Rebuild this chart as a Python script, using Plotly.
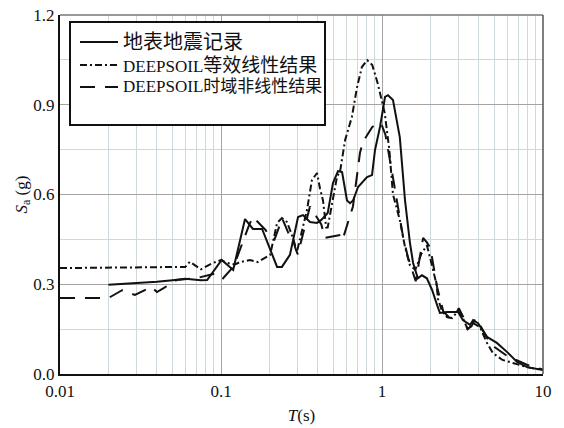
import plotly.graph_objects as go

# Response spectra: period T (s) and spectral acceleration Sa (g)
t_record = [0.02, 0.03, 0.04, 0.05, 0.06, 0.075, 0.082, 0.101, 0.119, 0.141, 0.158, 0.18,
            0.223, 0.239, 0.268, 0.301, 0.323, 0.357, 0.395, 0.42, 0.46, 0.496, 0.533, 0.565,
            0.606, 0.633, 0.661, 0.71, 0.807, 0.867, 0.905, 0.972, 1.044, 1.09, 1.17, 1.29,
            1.39, 1.49, 1.56, 1.67, 1.77, 1.9, 2.05, 2.2, 2.29, 2.53, 2.76, 2.97, 3.18, 3.52,
            3.68, 3.95, 4.49, 5.17, 5.97, 6.9, 7.96, 10.0]
sa_record = [0.298, 0.303, 0.308, 0.313, 0.318, 0.313, 0.314, 0.381, 0.348, 0.518, 0.485, 0.485,
             0.358, 0.358, 0.398, 0.525, 0.531, 0.508, 0.505, 0.515, 0.538, 0.638, 0.678, 0.675,
             0.58, 0.571, 0.58, 0.625, 0.658, 0.665, 0.749, 0.826, 0.926, 0.932, 0.916, 0.792,
             0.58, 0.44, 0.371, 0.32, 0.33, 0.32, 0.28, 0.23, 0.204, 0.207, 0.207, 0.207, 0.18,
             0.164, 0.18, 0.17, 0.124, 0.104, 0.074, 0.040, 0.023, 0.013]

t_eql = [0.01, 0.06, 0.064, 0.07, 0.075, 0.088, 0.1, 0.11, 0.122, 0.131, 0.151, 0.169, 0.188,
         0.202, 0.223, 0.239, 0.257, 0.268, 0.28, 0.296, 0.342, 0.367, 0.395, 0.412, 0.43, 0.45,
         0.46, 0.525, 0.55, 0.59, 0.65, 0.70, 0.75, 0.81, 0.87, 0.94, 1.04, 1.11, 1.17, 1.29,
         1.39, 1.49, 1.61, 1.75, 1.9, 2.05, 2.18, 2.23, 2.36, 2.53, 2.72, 2.97, 3.18, 3.42,
         3.68, 4.06, 4.49, 4.88, 5.6, 6.5, 7.96, 10.0]
sa_eql = [0.354, 0.358, 0.375, 0.36, 0.35, 0.37, 0.381, 0.371, 0.366, 0.374, 0.381, 0.374, 0.388,
          0.398, 0.505, 0.521, 0.508, 0.481, 0.455, 0.408, 0.548, 0.648, 0.672, 0.62, 0.58, 0.49,
          0.49, 0.658, 0.68, 0.782, 0.859, 0.959, 1.026, 1.049, 1.033, 0.972, 0.872, 0.75, 0.60,
          0.515, 0.424, 0.364, 0.348, 0.40, 0.43, 0.36, 0.30, 0.25, 0.21, 0.19, 0.187, 0.21,
          0.187, 0.147, 0.17, 0.157, 0.104, 0.07, 0.047, 0.037, 0.023, 0.013]

t_nl = [0.01, 0.02, 0.0243, 0.0292, 0.037, 0.04, 0.044, 0.053, 0.07, 0.094, 0.103, 0.12, 0.15,
        0.158, 0.19, 0.195, 0.215, 0.24, 0.265, 0.275, 0.29, 0.30, 0.357, 0.42, 0.44, 0.56,
        0.57, 0.63, 0.66, 0.73, 0.76, 0.87, 0.97, 1.0, 1.05, 1.15, 1.25, 1.35, 1.45, 1.55,
        1.62, 1.80, 1.9, 2.0, 2.1, 2.2, 2.3, 2.4, 2.6, 2.8, 3.0, 3.2, 3.4, 3.6, 3.8, 4.0, 4.5,
        5.0, 6.0, 7.0, 8.0, 10.0]
sa_nl = [0.254, 0.254, 0.28, 0.264, 0.291, 0.274, 0.287, 0.314, 0.32, 0.337, 0.32, 0.36, 0.50,
         0.525, 0.48, 0.465, 0.45, 0.52, 0.465, 0.465, 0.42, 0.40, 0.56, 0.50, 0.455, 0.465,
         0.45, 0.525, 0.56, 0.74, 0.775, 0.826, 0.84, 0.83, 0.80, 0.68, 0.56, 0.46, 0.39, 0.34,
         0.31, 0.455, 0.44, 0.42, 0.36, 0.29, 0.25, 0.21, 0.19, 0.19, 0.22, 0.19, 0.15, 0.16,
         0.185, 0.17, 0.12, 0.09, 0.06, 0.045, 0.03, 0.015]

names_prefix = ["", "DEEPSOIL", "DEEPSOIL"]
names_cjk = ["地表地震记录", "等效线性结果", "时域非线性结果"]
x_ticks = [0.01, 0.1, 1, 10]
x_tick_text = ["0.01", "0.1", "1", "10"]
y_ticks = [0.0, 0.3, 0.6, 0.9, 1.2]
y_tick_text = ["0.0", "0.3", "0.6", "0.9", "1.2"]

FONT = "Liberation Serif, Times New Roman, Noto Sans CJK SC, serif"
INK = "#111111"
MAJOR = "#a4a4a4"
MINOR = "#cfd9dd"
DASHES = ["solid", "7px,3px,2px,3px", "15px,10px"]

fig = go.Figure()
series = [(t_record, sa_record), (t_eql, sa_eql), (t_nl, sa_nl)]
for (tx, sy), pre, cjk, dash in zip(series, names_prefix, names_cjk, DASHES):
    fig.add_trace(go.Scatter(x=tx, y=sy, mode="lines", name=pre + cjk,
                             line=dict(color=INK, width=2, dash=dash), showlegend=False))


# helpers to place legend pieces in pixel terms of the plot area
PLOT_L, PLOT_T, PLOT_W, PLOT_H = 60, 15, 483, 359


def px_x(p):
    return (p - PLOT_L) / PLOT_W


def px_y(p):
    return (PLOT_T + PLOT_H - p) / PLOT_H


# legend frame
fig.add_shape(type="rect", xref="paper", yref="paper",
              x0=px_x(70), x1=px_x(325), y0=px_y(125), y1=px_y(22),
              line=dict(color=INK, width=2), fillcolor="white", layer="above")
# legend entries
rows = [42, 65, 87]
cjk_sizes = [20, 19, 17]
for row, pre, cjk, dash, csize in zip(rows, names_prefix, names_cjk, DASHES, cjk_sizes):
    fig.add_shape(type="line", xref="paper", yref="paper",
                  x0=px_x(80), x1=px_x(118), y0=px_y(row), y1=px_y(row),
                  line=dict(color=INK, width=2, dash=dash), layer="above")
    fig.add_annotation(xref="paper", yref="paper", x=px_x(121), y=px_y(row),
                       xanchor="left", yanchor="middle", showarrow=False,
                       text=pre + "<span style='font-size:%dpx'>%s</span>" % (csize, cjk),
                       font=dict(family=FONT, size=17, color=INK))

# top and right frame lines
fig.add_shape(type="line", xref="paper", yref="paper", x0=0, x1=1, y0=1, y1=1,
              line=dict(color="#777777", width=1.5), layer="above")
fig.add_shape(type="line", xref="paper", yref="paper", x0=1, x1=1, y0=0, y1=1,
              line=dict(color="#555555", width=1.5), layer="above")

fig.update_layout(
    width=564, height=428,
    margin=dict(l=60, r=21, t=15, b=54),
    paper_bgcolor="white", plot_bgcolor="white",
    font=dict(family=FONT, size=17, color=INK),
    showlegend=False,
    xaxis=dict(type="log", range=[-2, 1], tickvals=x_ticks, ticktext=x_tick_text,
               showgrid=True, gridcolor=MAJOR, gridwidth=1.2, automargin=False,
               minor=dict(dtick="D1", showgrid=True, gridcolor=MINOR, gridwidth=1.2, ticks=""),
               showline=True, linecolor=INK, linewidth=2, ticks="", zeroline=False,
               ticklabelstandoff=1,
               tickfont=dict(family=FONT, size=17, color=INK),
               title=dict(text="<i>T</i>(s)", font=dict(family=FONT, size=17, color=INK), standoff=9)),
    yaxis=dict(range=[0, 1.2], tickvals=y_ticks, ticktext=y_tick_text,
               showgrid=True, gridcolor=MAJOR, gridwidth=1.2, automargin=False,
               minor=dict(dtick=0.15, showgrid=True, gridcolor=MINOR, gridwidth=1.2, ticks=""),
               showline=True, linecolor=INK, linewidth=2, ticks="", zeroline=False,
               tickfont=dict(family=FONT, size=17, color=INK),
               title=dict(text="<i>S</i><sub>a</sub> (g)", font=dict(family=FONT, size=17, color=INK),
                          standoff=1)),
)

fig.write_html("out.html")
